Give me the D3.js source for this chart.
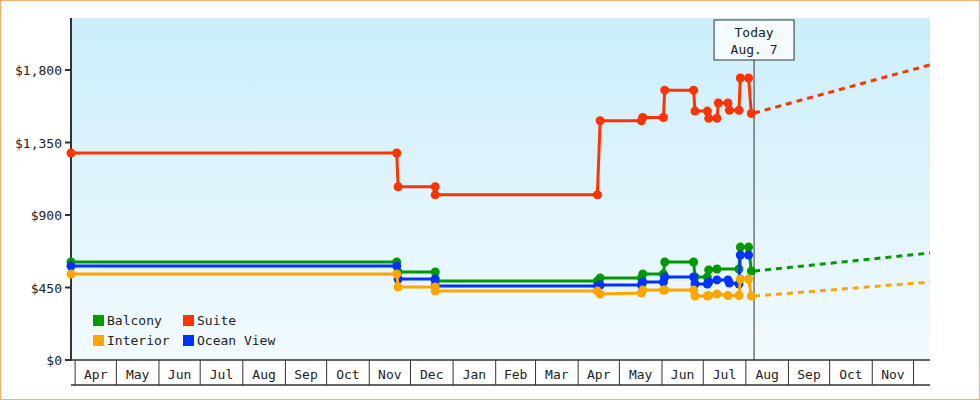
<!DOCTYPE html>
<html><head><meta charset="utf-8">
<script src="https://cdn.jsdelivr.net/npm/d3@7"></script>
<style>body{margin:0;background:#fff}svg{display:block}text{font-family:"DejaVu Sans Mono",monospace;font-size:13px;fill:#222}</style>
</head><body><svg id="c" width="980" height="400"></svg>
<script>
const seriesNames = ["Balcony","Suite","Interior","Ocean View"];
const seriesColors = ["#009900","#ff3300","#ffa500","#0033ff"];
const yTicks = [0,450,900,1350,1800];
const suite = [["2023-03-29",1285],["2023-11-21",1285],["2023-11-22",1075],["2023-12-19",1075],["2023-12-19",1025],["2024-04-15",1025],["2024-04-17",1485],["2024-05-17",1485],["2024-05-18",1505],["2024-06-02",1505],["2024-06-03",1675],["2024-06-24",1675],["2024-06-25",1545],["2024-07-04",1545],["2024-07-05",1500],["2024-07-11",1500],["2024-07-12",1595],["2024-07-19",1595],["2024-07-20",1550],["2024-07-27",1550],["2024-07-28",1750],["2024-08-03",1750],["2024-08-05",1530]];
const balcony = [["2023-03-29",608],["2023-11-21",608],["2023-11-22",546],["2023-12-19",546],["2023-12-19",490],["2024-04-15",490],["2024-04-17",509],["2024-05-17",509],["2024-05-18",534],["2024-06-02",534],["2024-06-03",608],["2024-06-24",608],["2024-06-25",515],["2024-07-04",515],["2024-07-05",559],["2024-07-11",565],["2024-07-27",565],["2024-07-28",701],["2024-08-03",701],["2024-08-05",552]];
const oceanView = [["2023-03-29",583],["2023-11-21",583],["2023-11-22",503],["2023-12-19",503],["2023-12-19",459],["2024-04-15",459],["2024-04-17",465],["2024-05-17",465],["2024-05-18",484],["2024-06-02",484],["2024-06-03",515],["2024-06-24",515],["2024-06-25",472],["2024-07-04",472],["2024-07-05",484],["2024-07-11",497],["2024-07-19",497],["2024-07-20",478],["2024-07-27",472],["2024-07-28",652],["2024-08-03",652]];
const interior = [["2023-03-29",534],["2023-11-21",534],["2023-11-22",453],["2023-12-19",453],["2023-12-19",428],["2024-04-15",428],["2024-04-17",410],["2024-05-17",416],["2024-05-18",434],["2024-06-02",434],["2024-06-03",434],["2024-06-24",434],["2024-06-25",397],["2024-07-04",397],["2024-07-05",400],["2024-07-11",410],["2024-07-19",400],["2024-07-27",400],["2024-07-28",503],["2024-08-03",503],["2024-08-05",397]];
const projections = [["Suite","2024-08-07",1533,"2024-12-13",1832],["Balcony","2024-08-07",552,"2024-12-13",664],["Interior","2024-08-07",397,"2024-12-13",484]];
const todayDate = "2024-08-07";
const todayLabel = ["Today","Aug. 7"];

const P = d3.timeParse("%Y-%m-%d");
const svg = d3.select("#c");
const L=71,R=930,T=18,B=360;
const x = d3.scaleTime().domain([P("2023-03-29"),P("2024-12-13")]).range([L,R]);
const y = d3.scaleLinear().domain([0,1800]).range([B,70]);
const defs = svg.append("defs");
const g = defs.append("linearGradient").attr("id","bg").attr("x1",0).attr("x2",0).attr("y1",0).attr("y2",1);
g.append("stop").attr("offset","0").attr("stop-color","#cbeefb");
g.append("stop").attr("offset","1").attr("stop-color","#f2fafe");
svg.append("rect").attr("x",0.5).attr("y",0.5).attr("width",979).attr("height",399).attr("fill","#fff").attr("stroke","#f0b070");
svg.append("rect").attr("x",L).attr("y",T).attr("width",R-L).attr("height",B-T).attr("fill","url(#bg)");
// x month boxes
const months = d3.timeMonth.range(P("2023-04-01"),P("2024-12-01"));
const ax = svg.append("g");
ax.append("line").attr("x1",L).attr("x2",R).attr("y1",B+25).attr("y2",B+25).attr("stroke","#333").attr("stroke-width",1.5);
months.forEach(m=>{
  const x0=x(m), x1=Math.min(x(d3.timeMonth.offset(m,1)),R);
  ax.append("line").attr("x1",x0).attr("x2",x0).attr("y1",B).attr("y2",B+25).attr("stroke","#333");
  ax.append("text").attr("x",(x0+x1)/2).attr("y",B+19).attr("text-anchor","middle").text(d3.timeFormat("%b")(m));
});
ax.append("line").attr("x1",x(P("2024-12-01"))).attr("x2",x(P("2024-12-01"))).attr("y1",B).attr("y2",B+25).attr("stroke","#333");
ax.append("line").attr("x1",L).attr("x2",R).attr("y1",B).attr("y2",B).attr("stroke","#333").attr("stroke-width",1.5);
// y axis
svg.append("line").attr("x1",L).attr("x2",L).attr("y1",T).attr("y2",B+1).attr("stroke","#333").attr("stroke-width",2);
yTicks.forEach(v=>{
  svg.append("line").attr("x1",L-6).attr("x2",L).attr("y1",y(v)).attr("y2",y(v)).attr("stroke","#333").attr("stroke-width",2);
  svg.append("text").attr("x",L-9).attr("y",y(v)+5).attr("text-anchor","end").text("$"+d3.format(",")(v));
});
// today
const tx=x(P(todayDate));
svg.append("line").attr("x1",tx).attr("x2",tx).attr("y1",60).attr("y2",B).attr("stroke","#333");
svg.append("rect").attr("x",tx-40).attr("y",20).attr("width",80).attr("height",40).attr("fill","#f4fbfe").attr("stroke","#333");
todayLabel.forEach((t,i)=>svg.append("text").attr("x",tx).attr("y",37+i*17).attr("text-anchor","middle").text(t));
// projections
const col = n=>seriesColors[seriesNames.indexOf(n)];
projections.forEach(p=>svg.append("line").attr("x1",x(P(p[1]))).attr("y1",y(p[2])).attr("x2",x(P(p[3]))).attr("y2",y(p[4]))
  .attr("stroke",col(p[0])).attr("stroke-width",3).attr("stroke-dasharray","6,5"));
// series
const line=d3.line().x(d=>x(P(d[0]))).y(d=>y(d[1]));
[["Suite",suite],["Balcony",balcony],["Ocean View",oceanView],["Interior",interior]].forEach(([n,data])=>{
  svg.append("path").attr("d",line(data)).attr("fill","none").attr("stroke",col(n)).attr("stroke-width",3);
  svg.append("g").selectAll("circle").data(data).join("circle").attr("cx",d=>x(P(d[0]))).attr("cy",d=>y(d[1])).attr("r",4.5).attr("fill",col(n));
});
// legend
seriesNames.forEach((n,i)=>{
  const lx=93+(i%2)*90, ly=315+Math.floor(i/2)*20;
  svg.append("rect").attr("x",lx).attr("y",ly).attr("width",11).attr("height",11).attr("fill",seriesColors[i]);
  svg.append("text").attr("x",lx+14).attr("y",ly+10).text(n);
});
</script></body></html>
